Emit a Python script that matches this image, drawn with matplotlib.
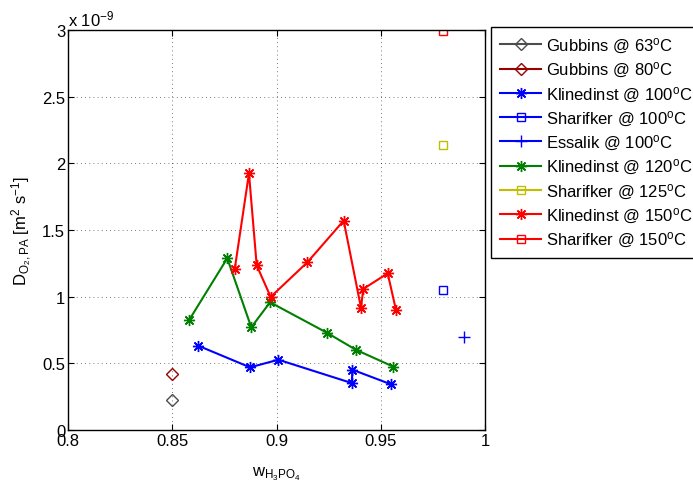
import matplotlib
matplotlib.use("Agg")
import matplotlib.pyplot as plt

plt.rcParams['font.family'] = ['Liberation Sans', 'DejaVu Sans']
plt.rcParams['mathtext.fontset'] = 'custom'
plt.rcParams['mathtext.rm'] = 'Liberation Sans'
plt.rcParams['mathtext.it'] = 'Liberation Sans'
plt.rcParams['font.size'] = 12

# D_O2 in units of 1e-9 m^2/s
gub63_w = [0.85]
gub63_d = [0.225]
gub80_w = [0.85]
gub80_d = [0.42]
kli100_w = [0.8625, 0.8873, 0.9009, 0.9361, 0.9364, 0.955]
kli100_d = [0.632, 0.47, 0.527, 0.352, 0.452, 0.342]
sha100_w = [0.98]
sha100_d = [1.05]
ess100_w = [0.99]
ess100_d = [0.70]
kli120_w = [0.8582, 0.8764, 0.8879, 0.8969, 0.9241, 0.938, 0.956]
kli120_d = [0.827, 1.288, 0.77, 0.958, 0.73, 0.602, 0.475]
sha125_w = [0.98]
sha125_d = [2.14]
kli150_w = [0.880, 0.8868, 0.8905, 0.8972, 0.9148, 0.9322, 0.9405, 0.9416, 0.9533, 0.9573]
kli150_d = [1.21, 1.925, 1.235, 0.998, 1.258, 1.57, 0.917, 1.058, 1.175, 0.898]
sha150_w = [0.98]
sha150_d = [2.99]

fig = plt.figure(figsize=(6.93, 4.89), dpi=100)
ax = fig.add_axes([0.098, 0.1186, 0.602, 0.818])

grey = (0.3, 0.3, 0.3)
dred = (0.6, 0, 0)
green = (0, 0.5, 0)
yellow = (0.75, 0.75, 0)
ast = (8, 2, 0)  # matlab-like asterisk

ax.plot(gub63_w, gub63_d, '-D', color=grey, mfc='none', ms=6, mew=1, label=r'Gubbins @ 63$^\mathrm{o}$C')
ax.plot(gub80_w, gub80_d, '-D', color=dred, mfc='none', ms=6, mew=1, label=r'Gubbins @ 80$^\mathrm{o}$C')
ax.plot(kli100_w, kli100_d, '-', marker=ast, color='b', ms=8, mew=1, label=r'Klinedinst @ 100$^\mathrm{o}$C')
ax.plot(sha100_w, sha100_d, '-s', color='b', mfc='none', ms=6, mew=1, label=r'Sharifker @ 100$^\mathrm{o}$C')
ax.plot(ess100_w, ess100_d, '-+', color='b', ms=8, mew=1, label=r'Essalik @ 100$^\mathrm{o}$C')
ax.plot(kli120_w, kli120_d, '-', marker=ast, color=green, ms=8, mew=1, label=r'Klinedinst @ 120$^\mathrm{o}$C')
ax.plot(sha125_w, sha125_d, '-s', color=yellow, mfc='none', ms=6, mew=1, label=r'Sharifker @ 125$^\mathrm{o}$C')
ax.plot(kli150_w, kli150_d, '-', marker=ast, color='r', ms=8, mew=1, label=r'Klinedinst @ 150$^\mathrm{o}$C')
ax.plot(sha150_w, sha150_d, '-s', color='r', mfc='none', ms=6, mew=1, label=r'Sharifker @ 150$^\mathrm{o}$C')

ax.set_xlim(0.8, 1.0)
ax.set_ylim(0, 3)
ax.set_xticks([0.8, 0.85, 0.9, 0.95, 1.0])
ax.set_xticklabels(['0.8', '0.85', '0.9', '0.95', '1'])
ax.set_yticks([0, 0.5, 1, 1.5, 2, 2.5, 3])
ax.set_yticklabels(['0', '0.5', '1', '1.5', '2', '2.5', '3'])
ax.tick_params(direction='in', top=True, right=True, labelsize=12, length=4, pad=2)
ax.grid(True, linestyle=(0, (1, 4)), color='k', linewidth=0.6, alpha=0.7)
for s in ax.spines.values():
    s.set_linewidth(1.0)

ax.text(0.0, 1.005, r'x 10$^{-9}$', transform=ax.transAxes, fontsize=12, ha='left', va='bottom')
ax.set_xlabel(r'w$_\mathrm{H_3PO_4}$', fontsize=12, labelpad=12)
ax.set_ylabel(r'D$_\mathrm{O_2,PA}$ [m$^2$ s$^{-1}$]', fontsize=12, labelpad=6)

leg = ax.legend(loc='upper left', bbox_to_anchor=(0.709, 0.942), bbox_transform=fig.transFigure,
                fancybox=False, edgecolor='k', framealpha=1, fontsize=12, handlelength=2.5,
                labelspacing=0.3, borderaxespad=0, handletextpad=0.3, borderpad=0.5)
leg.get_frame().set_linewidth(1.0)

fig.savefig('out.png', dpi=100)
